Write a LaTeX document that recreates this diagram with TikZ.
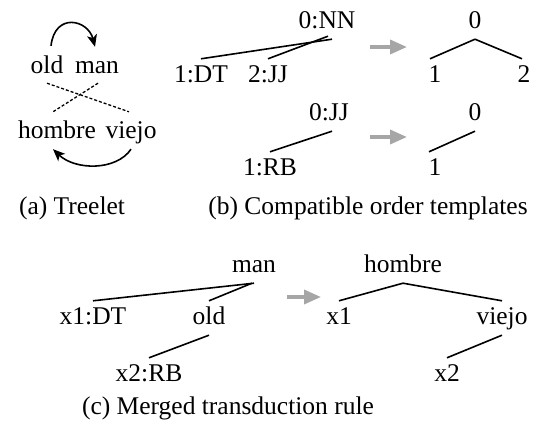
\documentclass[tikz,border=0pt]{standalone}
\usepackage{fontspec}
\setmainfont{Liberation Serif}
\usetikzlibrary{arrows.meta}
\begin{document}
\begin{tikzpicture}[x=1pt,y=-1pt,
  lbl/.style={inner xsep=0pt, inner ysep=5pt, text height=19pt, text depth=5pt, anchor=base, font=\fontsize{25.5}{30}\selectfont},
  captxt/.style={inner sep=0pt, anchor=base, font=\fontsize{25.5}{30}\selectfont},
  treeline/.style={line width=1.6pt},
  dotl/.style={line width=1.3pt, dash pattern=on 3pt off 2pt},
  curvearr/.style={line width=1.6pt, -{Stealth[length=12pt,width=10pt,inset=3pt]}},
  grayarr/.style={line width=3.5pt, draw=black!35, -{Triangle[length=17pt,width=14pt]}}]
\useasboundingbox (0,0) rectangle (539,430);
% (a)
\node[lbl] (old) at (47,74) {old};
\node[lbl] (man) at (97,74) {man};
\node[lbl] (hom) at (57,139) {hombre};
\node[lbl] (vie) at (131,139) {viejo};
\draw[dotl] ([yshift=1pt]old.south) -- ([xshift=-2pt,yshift=3pt]vie.north);
\draw[dotl] ([xshift=1pt,yshift=1pt]man.south) -- ([xshift=-4pt,yshift=3pt]hom.north);
\draw[curvearr] ([xshift=4pt,yshift=4pt]old.north) .. controls +(4,-34) and +(-7,-27) .. ([xshift=-2pt,yshift=3pt]man.north);
\draw[curvearr] (vie.south) .. controls +(-15,22) and +(22,21) .. ([xshift=-4pt]hom.south);
\node[captxt] (capa) at (72,215) {(a) Treelet};
% (b) row 1
\node[lbl] (nn) at (327,29) {0:NN};
\node[lbl] (dt) at (201,83) {1:DT};
\node[lbl] (jj) at (268,83) {2:JJ};
\draw[treeline] ([xshift=5pt]nn.south) -- (dt.north);
\draw[treeline] ([xshift=1pt,yshift=3pt]nn.south) -- (jj.north);
\coordinate (ga1) at (370,47);
\coordinate (gb1) at (407,47);
\draw[grayarr] (ga1) -- (gb1);
\node[lbl] (z1) at (475,29) {0};
\node[lbl] (o1) at (435,83) {1};
\node[lbl] (t1) at (524,83) {2};
\draw[treeline] (z1.south) -- ([xshift=-5pt]o1.north);
\draw[treeline] (z1.south) -- ([xshift=-2pt]t1.north);
% (b) row 2
\node[lbl] (jj2) at (329,121) {0:JJ};
\node[lbl] (rb) at (270,176) {1:RB};
\draw[treeline] ([xshift=3pt]jj2.south) -- (rb.north);
\coordinate (ga2) at (370,137);
\coordinate (gb2) at (407,137);
\draw[grayarr] (ga2) -- (gb2);
\node[lbl] (z2) at (475,121) {0};
\node[lbl] (o2) at (435,176) {1};
\draw[treeline] (z2.south) -- ([xshift=-6pt]o2.north);
\node[captxt] (capb) at (368,215) {(b) Compatible order templates};
% (c)
\node[lbl] (cman) at (254,273) {man};
\node[lbl] (cx1dt) at (93,325) {x1:DT};
\node[lbl] (cold) at (209,325) {old};
\node[lbl] (cx2rb) at (149,382) {x2:RB};
\draw[treeline] (cman.south) -- (cx1dt.north);
\draw[treeline] ([xshift=-2pt]cman.south) -- (cold.north);
\draw[treeline] (cold.south) -- (cx2rb.north);
\coordinate (ga3) at (287,297);
\coordinate (gb3) at (321,297);
\draw[grayarr] (ga3) -- (gb3);
\node[lbl] (chom) at (403,273) {hombre};
\node[lbl] (cx1) at (339,325) {x1};
\node[lbl] (cvie) at (502,325) {viejo};
\node[lbl] (cx2) at (447,382) {x2};
\draw[treeline] (chom.south) -- (cx1.north);
\draw[treeline] (chom.south) -- (cvie.north);
\draw[treeline] (cvie.south) -- (cx2.north);
\node[captxt] (capc) at (228,415) {(c) Merged transduction rule};
\end{tikzpicture}
\end{document}
